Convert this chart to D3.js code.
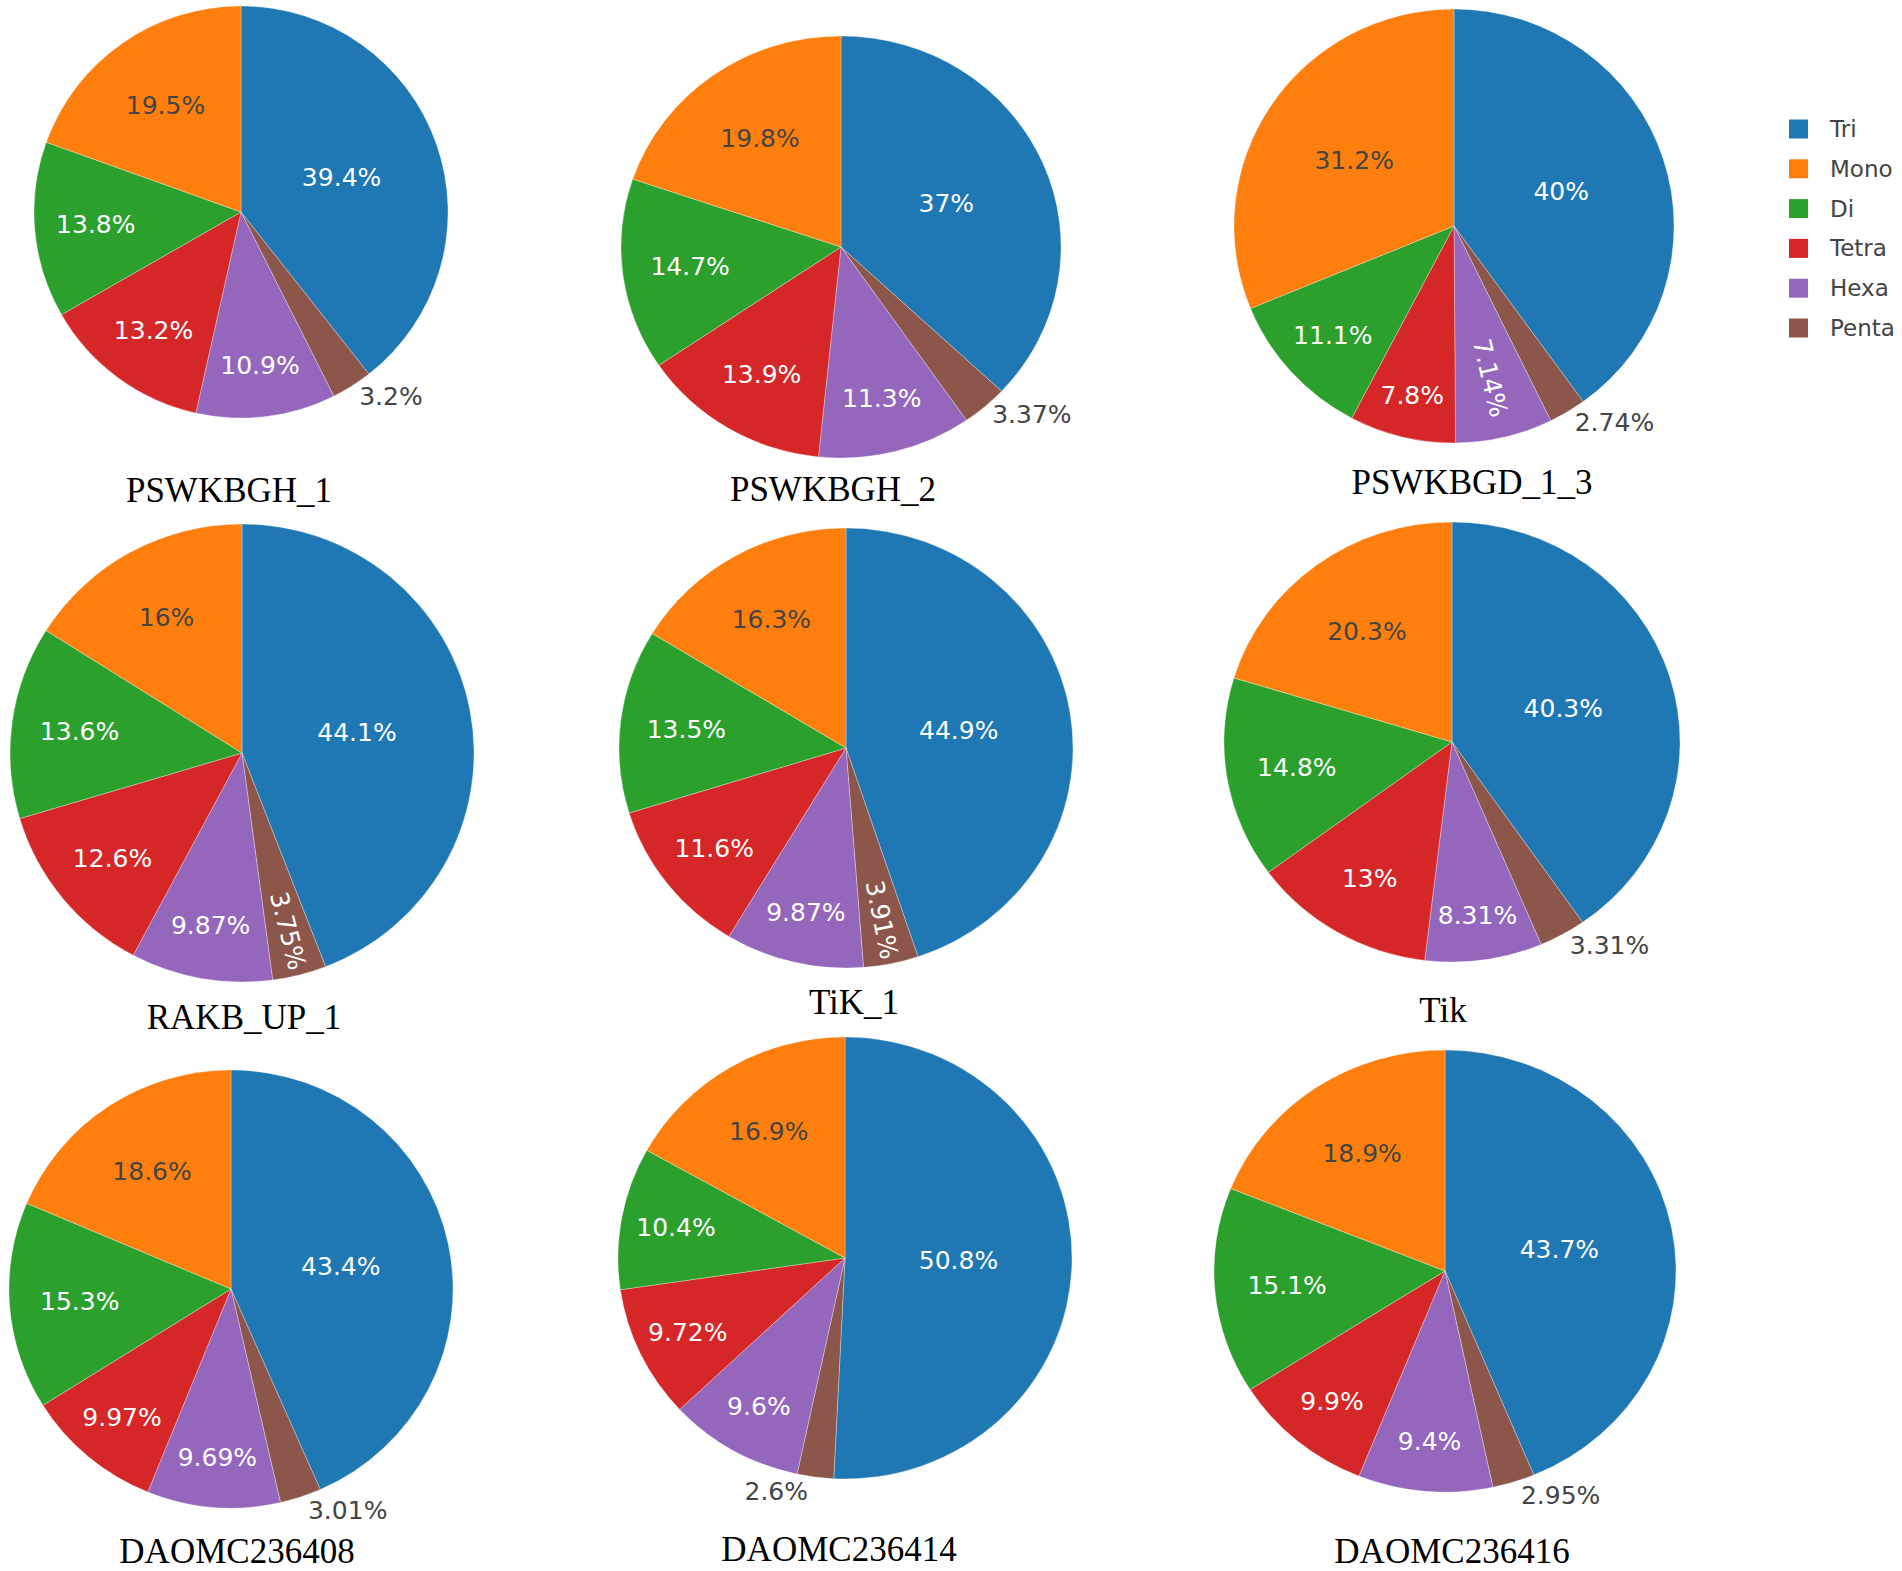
<!DOCTYPE html>
<html>
<head>
<meta charset="utf-8">
<script src="https://cdn.jsdelivr.net/npm/d3@7"></script>
<style>
  body { margin: 0; background: #fff; }
  svg { display: block; }
</style>
</head>
<body>
<div id="chart"></div>
<script>
// SSR motif shares (%) per sample
const samples = ["PSWKBGH_1", "PSWKBGH_2", "PSWKBGD_1_3",
                 "RAKB_UP_1", "TiK_1", "Tik",
                 "DAOMC236408", "DAOMC236414", "DAOMC236416"];
const categories = ["Tri", "Mono", "Di", "Tetra", "Hexa", "Penta"];

const tri   = [39.4, 37,   40,   44.1, 44.9, 40.3, 43.4, 50.8, 43.7];
const mono  = [19.5, 19.8, 31.2, 16,   16.3, 20.3, 18.6, 16.9, 18.9];
const di    = [13.8, 14.7, 11.1, 13.6, 13.5, 14.8, 15.3, 10.4, 15.1];
const tetra = [13.2, 13.9, 7.8,  12.6, 11.6, 13,   9.97, 9.72, 9.9];
const hexa  = [10.9, 11.3, 7.14, 9.87, 9.87, 8.31, 9.69, 9.6,  9.4];
const penta = [3.2,  3.37, 2.74, 3.75, 3.91, 3.31, 3.01, 2.6,  2.95];

const palette = ["#1f77b4", "#ff7f0e", "#2ca02c", "#d62728", "#9467bd", "#8c564b"];

// slices run clockwise from 12 o'clock in this order
const sliceOrder = ["Tri", "Penta", "Hexa", "Tetra", "Di", "Mono"];

// panel placement - the pasted panels are not all the same size
const panels = [
  {cx: 241,  cy: 212,  rx: 207, ry: 206, tx: 229,  ty: 502},
  {cx: 841,  cy: 247,  rx: 220, ry: 211, tx: 833,  ty: 501},
  {cx: 1454, cy: 226,  rx: 220, ry: 217, tx: 1472, ty: 494},
  {cx: 242,  cy: 753,  rx: 232, ry: 229, tx: 244,  ty: 1029},
  {cx: 846,  cy: 748,  rx: 227, ry: 220, tx: 854,  ty: 1014},
  {cx: 1452, cy: 742,  rx: 228, ry: 220, tx: 1443, ty: 1022},
  {cx: 231,  cy: 1289, rx: 222, ry: 219, tx: 237,  ty: 1563},
  {cx: 845,  cy: 1258, rx: 227, ry: 221, tx: 839,  ty: 1561},
  {cx: 1445, cy: 1271, rx: 231, ry: 221, tx: 1452, ty: 1563}
];

const width = 1902, height = 1571;
const labelFont = 25;
const labelFamily = "'DejaVu Sans', Verdana, sans-serif";
const TEXTPAD = 3;

const series = {Tri: tri, Mono: mono, Di: di, Tetra: tetra, Hexa: hexa, Penta: penta};
const color = d3.scaleOrdinal().domain(categories).range(palette);

const svg = d3.select("#chart").append("svg")
    .attr("width", width)
    .attr("height", height);

svg.append("rect").attr("width", width).attr("height", height).attr("fill", "#fff");

// hidden text used to measure label sizes
const measurer = svg.append("text")
    .attr("font-family", labelFamily)
    .attr("font-size", labelFont)
    .attr("visibility", "hidden");

function textBox(str) {
  measurer.text(str);
  return {w: measurer.node().getComputedTextLength(), h: labelFont * 1.164};
}

// dark text on light slices, white otherwise
function insideColor(fill) {
  const c = d3.rgb(fill);
  const bright = (c.r * 299 + c.g * 587 + c.b * 114) / 1000;
  return bright > 128 ? "#444" : "#fff";
}

function normRot(deg) {
  while (deg > 90) deg -= 180;
  while (deg <= -90) deg += 180;
  return deg;
}

// inside if it fits (horizontal first, then rotated), otherwise outside
function placeLabel(d, r, k, str) {
  const half = (d.endAngle - d.startAngle) / 2;
  const mid = (d.startAngle + d.endAngle) / 2;
  const sx = Math.sin(mid), sy = -Math.cos(mid);
  const box = textBox(str);

  const rIns = Math.min(1 / (1 + 1 / Math.sin(half)), 0.5);
  const diam = Math.hypot(box.w, box.h);
  if (rIns * r * 2 / diam >= 1) {
    const rc = 1 - rIns;
    return {x: sx * r * rc * k, y: sy * r * rc, rot: 0, inside: true};
  }

  const rr = Math.max(0, r - 2 * TEXTPAD);
  function maxHalf(a) {
    const q = a + 1 / (2 * Math.tan(half));
    return rr * Math.min(1 / (Math.sqrt(q * q + 0.5) + q), 1 / (Math.sqrt(a * a + 0.5) + a));
  }
  const radDeg = Math.atan2(sy, sx) * 180 / Math.PI;

  const aR = box.w / box.h, sR = maxHalf(aR);
  const rad = {scale: 2 * sR / box.h, rc: Math.cos(sR / rr) - aR * sR / rr, rot: normRot(radDeg)};
  const aT = box.h / box.w, sT = maxHalf(aT);
  const tan = {scale: 2 * sT / box.w, rc: Math.cos(sT / rr) - aT * sT / rr, rot: normRot(radDeg + 90)};
  const best = rad.scale >= tan.scale ? rad : tan;

  if (best.scale >= 1) {
    return {x: sx * r * best.rc * k, y: sy * r * best.rc, rot: best.rot, inside: true};
  }

  // outside, next to the rim
  const px = sx * r * k, py = sy * r;
  let dx = box.w / 2, dy = box.h / 2;
  if (px < 0) dx = -dx;
  if (py < 0) dy = -dy;
  const ox = dx + Math.abs(dy) * (dx > 0 ? 1 : -1) / 2;
  const oy = dy / (1 + px * px / (py * py));
  return {x: px + ox, y: py + oy, rot: 0, inside: false};
}

const pie = d3.pie().sort(null).value(d => d.value);

panels.forEach((p, i) => {
  const data = sliceOrder.map(c => ({key: c, value: series[c][i]}));
  const arcs = pie(data);
  const k = p.rx / p.ry;
  const arc = d3.arc().innerRadius(0).outerRadius(p.ry);

  const g = svg.append("g")
      .attr("transform", "translate(" + p.cx + "," + p.cy + ")");

  g.append("g")
      .attr("transform", "scale(" + k + ",1)")
    .selectAll("path")
    .data(arcs)
    .join("path")
      .attr("d", arc)
      .attr("fill", d => color(d.data.key))
      .attr("stroke", "#fff")
      .attr("stroke-opacity", 0.5)
      .attr("stroke-width", 0.6);

  arcs.forEach(d => {
    const str = d.data.value + "%";
    const pos = placeLabel(d, p.ry, k, str);
    g.append("text")
        .attr("transform", "translate(" + pos.x + "," + pos.y + ") rotate(" + pos.rot + ")")
        .attr("text-anchor", "middle")
        .attr("dy", "0.35em")
        .attr("font-family", labelFamily)
        .attr("font-size", labelFont)
        .attr("fill", pos.inside ? insideColor(color(d.data.key)) : "#444")
        .text(str);
  });

  svg.append("text")
      .attr("x", p.tx)
      .attr("y", p.ty)
      .attr("text-anchor", "middle")
      .attr("font-family", "'Liberation Serif', 'Times New Roman', serif")
      .attr("font-size", 35)
      .attr("fill", "#000")
      .text(samples[i]);
});

// legend
const legend = svg.append("g").attr("transform", "translate(1789,129)");
const item = legend.selectAll("g")
    .data(categories)
    .join("g")
      .attr("transform", (d, i) => "translate(0," + i * 39.8 + ")");
item.append("rect")
    .attr("x", 0)
    .attr("y", -9.5)
    .attr("width", 19)
    .attr("height", 19)
    .attr("fill", d => color(d));
item.append("text")
    .attr("x", 41)
    .attr("dy", "0.35em")
    .attr("font-family", labelFamily)
    .attr("font-size", 23)
    .attr("fill", "#444")
    .text(d => d);
</script>
</body>
</html>
